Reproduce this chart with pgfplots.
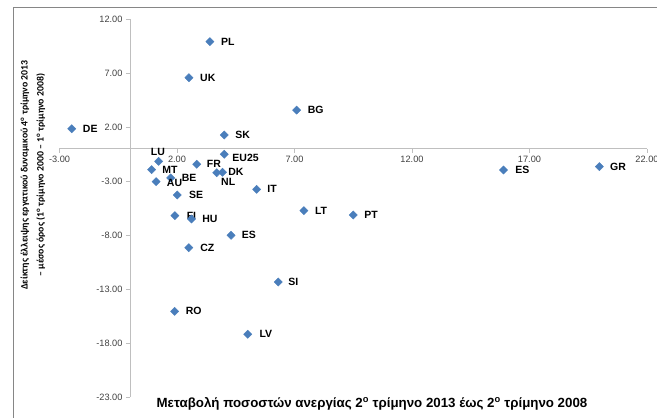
\documentclass[border=0pt]{standalone}
\usepackage{fontspec}
\setmainfont{Liberation Sans}
\newfontfamily\calfont{Carlito}
\usepackage{pgfplots}
\usepackage{pgfplotstable}
\pgfplotsset{compat=1.18}
\definecolor{mblue}{RGB}{74,126,187}
\definecolor{axgray}{RGB}{191,191,191}
\definecolor{tickgray}{RGB}{64,64,64}
\definecolor{bordergray}{RGB}{134,134,134}
\pgfplotstableread{
x y label dx dy
3.40 9.90 PL 11 0
2.51 6.57 UK 11 0
7.09 3.57 BG 11 0
-2.48 1.84 DE 11 0
4.01 1.26 SK 11 0
1.22 -1.18 LU -8 9
4.01 -0.53 EU25 8 -3.4
2.84 -1.45 FR 10 0
0.92 -1.95 MT 10.6 0
3.94 -2.19 DK 5.6 0
3.69 -2.23 NL 4.3 -9
1.73 -2.72 BE 11 0
1.11 -3.06 AU 10.7 -1
2.01 -4.30 SE 11.7 0
5.39 -3.77 IT 10.6 0
7.40 -5.75 LT 11 0
1.91 -6.21 FI 11.7 0
2.62 -6.52 HU 10.6 0
4.30 -8.03 ES 10.7 0
2.50 -9.17 CZ 11.3 0
6.31 -12.35 SI 10 0
1.90 -15.07 RO 11 0
5.01 -17.19 LV 11.6 0
9.50 -6.15 PT 11 0
15.89 -1.98 ES 11.7 0
19.97 -1.67 GR 10.7 0
}\datatable
\begin{document}
\begin{tikzpicture}[x=1pt,y=1pt]
\useasboundingbox (0,0) rectangle (657,418);
\draw[bordergray, line width=0.9pt] (13,411) rectangle (700,-30);
\begin{axis}[
  anchor=origin, at={(130pt,269.4pt)},
  x=23.5pt, y=10.8pt,
  xmin=-3, xmax=22, ymin=-23, ymax=12,
  axis lines=middle,
  axis line style={-, draw=axgray, line width=0.7pt},
  xtick={-3,2,...,22}, ytick={-23,-18,...,12},
  tick style={draw=axgray, line width=0.7pt},
  major tick length=4pt,
  tick align=outside,
  clip=false,
  ticklabel style={font=\fontsize{9.2}{10}\selectfont, text=tickgray},
  /pgf/number format/.cd, fixed, fixed zerofill, precision=2, assume math mode=true,
]
\addplot[only marks, mark=square*, mark size=2.9pt,
  mark options={rotate=45, fill=mblue, draw=mblue},
  nodes near coords, point meta=explicit symbolic,
  visualization depends on={\thisrow{dx}\as\dx},
  visualization depends on={\thisrow{dy}\as\dy},
  every node near coord/.append style={anchor=west, inner sep=0pt,
     xshift=\dx pt, yshift=\dy pt,
     font=\bfseries\fontsize{10.5}{12}\selectfont, text=black}]
  table[x=x, y=y, meta=label] {\datatable};
\end{axis}
\node[font=\bfseries\fontsize{13.3}{15}\selectfont] at (372,14) {Μεταβολή ποσοστών ανεργίας 2\textsuperscript{ο} τρίμηνο 2013 έως 2\textsuperscript{ο} τρίμηνο 2008};
\node[rotate=90, align=center, font=\calfont\bfseries\fontsize{9.8}{16}\selectfont] at (33,243) {Δείκτης έλλειψης εργατικού δυναμικού 4\textsuperscript{ο} τρίμηνο 2013\\ – μέσος όρος (1\textsuperscript{ο} τρίμηνο 2000 – 1\textsuperscript{ο} τρίμηνο 2008)};
\end{tikzpicture}
\end{document}
